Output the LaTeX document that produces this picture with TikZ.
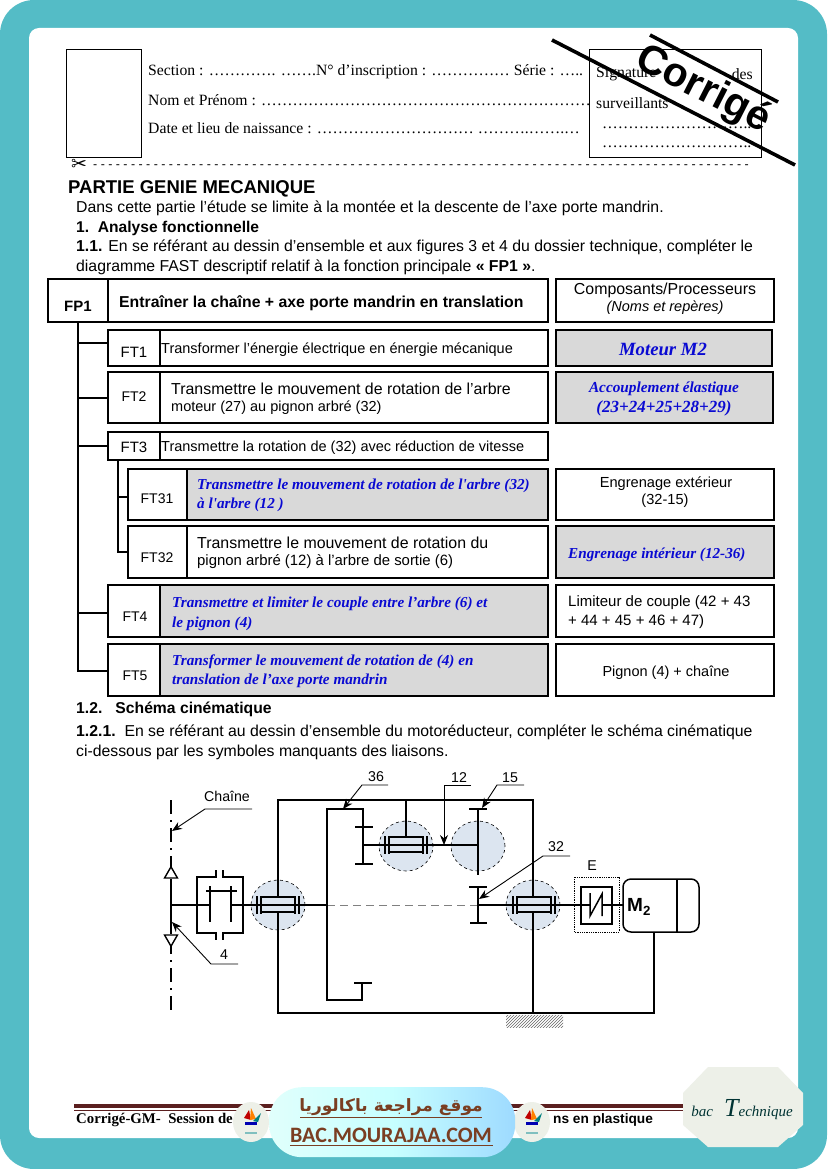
\documentclass[tikz,border=0pt]{standalone}
\usepackage{fontspec}
\usetikzlibrary{arrows.meta,patterns,shapes.geometric}
\setmainfont{Liberation Sans}
\newfontfamily\serifft{Liberation Serif}
\newfontfamily\scriptft{Liberation Serif}[BoldItalicFont={* Bold Italic}]
\newfontfamily\symft{DejaVu Sans}
\newfontfamily\badgeft{Carlito}
\newfontfamily\arabicfont[Script=Arabic]{DejaVu Sans}
\TeXXeTstate=1
\definecolor{teal1}{HTML}{54BCC6}
\definecolor{grayfill}{HTML}{D9D9D9}
\definecolor{blobfill}{HTML}{DCE5F0}
\definecolor{bluetxt}{HTML}{0A0AD2}
\definecolor{brownb}{HTML}{7A3E22}
\definecolor{rulebr}{HTML}{5B1F1F}
\definecolor{paleoct}{HTML}{EDF0E8}
\newcommand{\fs}[1]{\fontsize{#1}{#1}\selectfont}
\tikzset{
  x=1pt,y=-1pt,
  box/.style={draw=black,line width=2pt,anchor=north west,inner sep=0pt,outer sep=0pt},
  gbox/.style={box,fill=grayfill},
  trunk/.style={line width=1.6pt},
  body/.style={anchor=west,inner sep=0pt,yshift=-1.5pt,font=\fs{15.8}},
  head/.style={anchor=west,inner sep=0pt,yshift=-1pt,font=\serifft\fs{15.7}},
  handw/.style={anchor=west,inner sep=0pt,yshift=-1.5pt,align=left,text=bluetxt,font=\scriptft\bfseries\itshape\fs{15.2}},
  handc/.style={anchor=center,inner sep=0pt,yshift=-1pt,align=center,text=bluetxt,font=\scriptft\bfseries\itshape\fs{15.3}},
  ctxt/.style={anchor=center,inner sep=0pt,align=center,font=\fs{14}},
  ltxt/.style={anchor=west,inner sep=0pt,yshift=-1.5pt,align=left,font=\fs{15},text=black},
  lab/.style={inner sep=0pt,font=\fs{14.2}},
  kin/.style={line width=1.5pt},
  kint/.style={line width=1.8pt},
  lead/.style={line width=0.9pt,-{Stealth[length=10pt,width=8pt]}},
  blob/.style={ellipse,draw=black,dashed,line width=0.6pt,fill=blobfill,minimum width=54pt,minimum height=50pt,inner sep=0pt},
}
\begin{document}
\begin{tikzpicture}
\useasboundingbox (0,0) rectangle (827,1169);
% page
\fill[white] (0,0) rectangle (827,1169);
\fill[teal1,rounded corners=34pt] (0,0) rectangle (827,1169);
\fill[white,rounded corners=10pt] (29,28) rectangle (798,1138);

% header
\node[box,line width=0.8pt,minimum width=75pt,minimum height=108pt] (idbox) at (66,49) {};
\node[box,line width=0.8pt,minimum width=172pt,minimum height=108pt] (sigbox) at (589,49) {};
\node[head] (h1) at (148,71) {Section : …………. …….N° d’inscription : …………… Série : …..};
\node[head] (h2) at (148,99) {Nom et Prénom : ………………………………………………………};
\node[head] (h3) at (148,127) {Date et lieu de naissance : ………………………… ……….…….…};
\node[head] (s1) at (596,73) {Signature};
\node[head,anchor=east] (s1b) at (753,73) {des};
\node[head] (s2) at (596,102) {surveillants};
\node[head] (s3) at (602,127) {………………………..};
\node[head] (s4) at (602,146) {………………………..};
\node[anchor=west,inner sep=0pt,font=\symft\fs{19}] (scis) at (71,165) {✂};
\node[anchor=west,inner sep=0pt,font=\fs{12.4}] (cutl) at (93,167) {- - - - - - - - - - - - - - - - - - - - - - - - - - - - - - - - - - - - - - - - - - - - - - - - - - - - - - - - - - - - - - - - - - - - - - - - - - - - - - - - - - - - - - -};
% stamp
\coordinate (st1a) at (552,40); \coordinate (st1b) at (795,165);
\coordinate (st2a) at (650,35); \coordinate (st2b) at (778,102);
\draw[line width=3.6pt] (st1a) -- (st1b);
\draw[line width=3.6pt] (st2a) -- (st2b);
\node[rotate=-27,inner sep=0pt,font=\bfseries\fs{41}] (corr) at (703,90) {Corrigé};

% headings
\node[anchor=west,inner sep=0pt,yshift=-2pt,font=\bfseries\fs{18.5}] (t0) at (68,187) {PARTIE GENIE MECANIQUE};
\node[body] (t1) at (76,207) {Dans cette partie l’étude se limite à la montée et la descente de l’axe porte mandrin.};
\node[body,font=\bfseries\fs{15.6}] (t2) at (76,227) {1.\ \ Analyse fonctionnelle};
\node[body] (t3) at (76,246) {\textbf{1.1.} En se référant au dessin d’ensemble et aux figures 3 et 4 du dossier technique, compléter le};
\node[body] (t4) at (76,266) {diagramme FAST descriptif relatif à la fonction principale \textbf{« FP1 »}.};

% FAST boxes
\node[box,minimum width=60pt,minimum height=43pt] (fp1) at (48,279) {};
\node[anchor=center,inner sep=0pt,font=\bfseries\fs{15}] (fp1t) at (78,306) {FP1};
\node[box,minimum width=440pt,minimum height=43pt] (fp1d) at (108,279) {};
\node[anchor=west,inner sep=0pt,yshift=-1pt,font=\bfseries\fs{15.8}] (fp1dt) at (119,302) {Entraîner la chaîne + axe porte mandrin en translation};
\node[box,minimum width=218pt,minimum height=43pt] (cp) at (556,279) {};
\node[ctxt,yshift=-2pt,font=\fs{15.9}] (cpt) at (665,288) {Composants/Processeurs};
\node[ctxt,yshift=-1pt,font=\itshape\fs{14.5}] (cpt2) at (665,307) {(Noms et repères)};

\node[box,minimum width=52pt,minimum height=36pt] (ft1) at (108,330) {};
\node[box,minimum width=388pt,minimum height=36pt] (ft1d) at (160,330) {};
\node[ctxt,font=\fs{15}] (ft1n) at (134,352) {FT1};
\node[anchor=west,inner sep=0pt,yshift=-2pt,font=\fs{14.5}] (ft1t) at (161,348) {Transformer l'énergie électrique en énergie mécanique};
\node[gbox,minimum width=216pt,minimum height=36pt] (r1) at (556,330) {};
\node[handc,font=\scriptft\bfseries\itshape\fs{18.7}] (r1t) at (663,348) {Moteur M2};

\node[box,minimum width=52pt,minimum height=51pt] (ft2) at (108,372) {};
\node[box,minimum width=388pt,minimum height=51pt] (ft2d) at (160,372) {};
\node[ctxt] (ft2n) at (134,397) {FT2};
\node[ltxt,font=\fs{15.9}] (ft2t) at (171,387) {Transmettre le mouvement de rotation de l’arbre};
\node[ltxt,font=\fs{14.5}] (ft2u) at (171,406) {moteur (27) au pignon arbré (32)};
\node[gbox,minimum width=217pt,minimum height=51pt] (r2) at (556,372) {};
\node[handc] (r2t) at (664,388) {Accouplement élastique};
\node[handc,font=\scriptft\bfseries\itshape\fs{17}] (r2u) at (664,407) {(23+24+25+28+29)};

\node[box,minimum width=52pt,minimum height=28pt] (ft3) at (108,432) {};
\node[box,minimum width=388pt,minimum height=28pt] (ft3d) at (160,432) {};
\node[ctxt,font=\fs{15}] (ft3n) at (134,447) {FT3};
\node[anchor=west,inner sep=0pt,yshift=-2pt,font=\fs{14.5}] (ft3t) at (161,446) {Transmettre la rotation de (32) avec réduction de vitesse};

\node[box,minimum width=59pt,minimum height=51pt] (ft31) at (128,469) {};
\node[gbox,minimum width=361pt,minimum height=51pt] (ft31d) at (187,469) {};
\node[ctxt] (ft31n) at (157,499) {FT31};
\node[handw] (ft31t) at (197,484) {Transmettre le mouvement de rotation de l'arbre (32)};
\node[handw] (ft31u) at (197,503) {à l'arbre (12 )};
\node[box,minimum width=218pt,minimum height=51pt] (r31) at (556,469) {};
\node[ctxt,yshift=-1pt,font=\fs{14.6}] (r31t) at (666,483) {Engrenage extérieur};
\node[ctxt,yshift=-1pt,font=\fs{14.6}] (r31u) at (665,500) {(32-15)};

\node[box,minimum width=59pt,minimum height=52pt] (ft32) at (128,526) {};
\node[box,minimum width=361pt,minimum height=52pt] (ft32d) at (187,526) {};
\node[ctxt] (ft32n) at (157,558) {FT32};
\node[ltxt,font=\fs{15.9}] (ft32t) at (197,541) {Transmettre le mouvement de rotation du};
\node[ltxt,font=\fs{14.9}] (ft32u) at (197,560) {pignon arbré (12) à l’arbre de sortie (6)};
\node[gbox,minimum width=218pt,minimum height=52pt] (r32) at (556,526) {};
\node[handw] (r32t) at (568,553) {Engrenage intérieur (12-36)};

\node[box,minimum width=52pt,minimum height=52pt] (ft4) at (108,585) {};
\node[gbox,minimum width=388pt,minimum height=52pt] (ft4d) at (160,585) {};
\node[ctxt] (ft4n) at (135,617) {FT4};
\node[handw] (ft4t) at (172,602) {Transmettre et limiter le couple entre l’arbre (6) et};
\node[handw] (ft4u) at (172,622) {le pignon (4)};
\node[box,minimum width=218pt,minimum height=52pt] (r4) at (556,585) {};
\node[ltxt] (r4t) at (568,601) {Limiteur de couple (42 + 43};
\node[ltxt] (r4u) at (568,620) {+ 44 + 45 + 46 + 47)};

\node[box,minimum width=52pt,minimum height=52pt] (ft5) at (108,644) {};
\node[gbox,minimum width=388pt,minimum height=52pt] (ft5d) at (160,644) {};
\node[ctxt] (ft5n) at (135,676) {FT5};
\node[handw] (ft5t) at (172,660) {Transformer le mouvement de rotation de (4) en};
\node[handw] (ft5u) at (172,679) {translation de l’axe porte mandrin};
\node[box,minimum width=218pt,minimum height=52pt] (r5) at (556,644) {};
\node[ctxt,yshift=-2pt,font=\fs{14.5}] (r5t) at (666,671) {Pignon (4) + chaîne};

% FAST connectors
\draw[trunk] (fp1.south -| 78,0) -- (78,671) -- (ft5.west |- 0,671);
\draw[trunk] (78,343) -- (ft1.west |- 0,343);
\draw[trunk] (78,398) -- (ft2.west |- 0,398);
\draw[trunk] (78,446) -- (ft3.west |- 0,446);
\draw[trunk] (78,613) -- (ft4.west |- 0,613);
\draw[trunk] (ft3.south -| 118,0) -- (118,552) -- (ft32.west |- 0,552);
\draw[trunk] (118,497) -- (ft31.west |- 0,497);

% section 1.2
\node[body,font=\bfseries\fs{15.7}] (t5) at (76,708) {1.2.\ \ \ Schéma cinématique};
\node[body] (t6) at (76,731) {\textbf{1.2.1.}\ \ En se référant au dessin d’ensemble du motoréducteur, compléter le schéma cinématique};
\node[body] (t7) at (76,751) {ci-dessous par les symboles manquants des liaisons.};

% kinematic blobs
\node[blob] (b1) at (278,905) {};
\node[blob] (b2) at (406,846) {};
\node[blob] (b3) at (478,846) {};
\node[blob] (b4) at (533,905) {};

% chain axis
\draw[line width=1.3pt,dash pattern=on 14pt off 6pt on 2pt off 6pt] (171,800) -- (171,1010);
\draw[kint] (171,879) -- (171,933);
\node[isosceles triangle,isosceles triangle apex angle=60,shape border rotate=90,draw,line width=1.4pt,fill=white,inner sep=3pt] (tri1) at (171,875) {};
\node[isosceles triangle,isosceles triangle apex angle=60,shape border rotate=270,draw,line width=1.4pt,fill=white,inner sep=3pt] (tri2) at (171,938) {};

% frame
\draw[kin] (278,800) rectangle (533,1013);
\draw[kin] (533,1013) -- (654,1013) -- (654,932);
\draw[kin] (406,800) -- (406,838);
% shafts
\draw[kint] (171,905) -- (210,905);
\draw[kint] (231,905) -- (327,905);
\draw[kint] (363,845) -- (478,845);
\draw[kint] (478,905) -- (623,905);
\draw[line width=0.5pt,gray,dash pattern=on 8pt off 5pt] (327,905) -- (478,905);
% clutch
\draw[kin] (216,870) -- (216,877) -- (197,877) -- (197,933) -- (216,933) -- (216,940);
\draw[kin] (223,870) -- (223,877) -- (243,877) -- (243,933) -- (223,933) -- (223,940);
\draw[kin] (206,891) -- (237,891);
\draw[kin] (210,886) -- (210,922);
\draw[kin] (231,886) -- (231,922);
% drum 36
\draw[kin] (363,864) -- (363,809) -- (327,809) -- (327,1000) -- (362,1000) -- (362,983);
\draw[kin] (355,827) -- (373,827);
\draw[kin] (355,864) -- (373,864);
\draw[kin] (354,983) -- (372,983);
% gears 15 and 32
\draw[kint] (478,809) -- (478,875);
\draw[kint] (478,887) -- (478,923);
\draw[kin] (469,809) -- (487,809);
\draw[kin] (469,887) -- (487,887);
\draw[kin] (470,923) -- (487,923);
% bearings
\foreach \cx/\cy/\bn in {278/905/a,406/845/b,534/905/c}{
  \draw[line width=1.6pt,fill=blobfill] (\cx-17,\cy-8) rectangle (\cx+17,\cy+7);
  \draw[kint] (\cx,\cy) ++(-34,0) -- ++(68,0);
  \draw[kin] (\cx-21,\cy-9) -- (\cx-21,\cy+9);
  \draw[kin] (\cx+21,\cy-9) -- (\cx+21,\cy+9);
  \draw[kin] (\cx-17,\cy-9) -- (\cx-17,\cy+9);
  \draw[kin] (\cx+17,\cy-9) -- (\cx+17,\cy+9);
}
% coupling E
\draw[densely dotted,line width=0.8pt] (574,877) rectangle (619,932);
\draw[line width=1.6pt,fill=white] (581,887) rectangle (612,924);
\draw[kint] (574,905) -- (591,905);
\draw[kint] (603,905) -- (623,905);
\draw[kin] (590,893) -- (590,916) -- (602,894) -- (602,916);
\node[lab] (elab) at (592,866) {E};
% motor
\node[box,line width=1.5pt,rounded corners=8pt,minimum width=76pt,minimum height=53pt] (m2) at (623,879) {};
\draw[kin] (677,879) -- (677,932);
\node[inner sep=0pt,anchor=west,font=\bfseries\fs{19}] (m2t) at (627,907) {M\textsubscript{2}};
% ground
\fill[pattern=north east lines,pattern color=black!60] (506,1015) rectangle (563,1027);

% leaders
\node[lab] (l36) at (376,777) {36};
\draw[lead] (388,785) -- (362,785) -- (343,809);
\node[lab] (l12) at (459,778) {12};
\draw[lead] (471,785) -- (444,785) -- (444,845);
\node[lab] (l15) at (510,778) {15};
\draw[lead] (524,785) -- (497,785) -- (482,808);
\node[lab] (l32) at (556,847) {32};
\draw[lead] (570,856) -- (543,856) -- (479,899);
\node[lab] (lch) at (227,796) {Chaîne};
\draw[lead] (252,809) -- (205,809) -- (172,831);
\node[lab] (l4) at (224,955) {4};
\draw[lead] (238,964) -- (211,964) -- (172,922);

% footer
\fill[rulebr] (74,1104) rectangle (685,1108);
\fill[rulebr] (74,1109.5) rectangle (685,1110.5);
\node[anchor=west,inner sep=0pt,font=\serifft\bfseries\fs{14.8}] (f1) at (76,1120) {Corrigé-GM-\ \ Session de};
\node[anchor=west,inner sep=0pt,font=\bfseries\fs{13.7}] (f2) at (553,1120) {ns en plastique};
% logos
\foreach \lx/\ln in {251/la,532/lb}{
  \fill[paleoct] (\lx,1122) ellipse (18 and 20);
  \fill[red!75!black] (\lx-7,1118) -- (\lx-2,1110) -- (\lx,1120) -- cycle;
  \fill[orange] (\lx-1,1120) -- (\lx,1108) -- (\lx+5,1119) -- cycle;
  \fill[teal] (\lx+2,1121) -- (\lx+10,1113) -- (\lx+7,1122) -- cycle;
  \fill[blue!70!black] (\lx-6,1122) rectangle (\lx+6,1125);
  \fill[teal!50] (\lx-6,1132) rectangle (\lx+6,1134);
}
% badge
\node[anchor=north west,minimum width=246pt,minimum height=70pt,inner sep=0pt,rounded corners=33pt,left color=green!10!cyan!12,right color=blue!38!cyan!38,middle color=cyan!22] (badge) at (269,1087) {};
\node[inner sep=0pt,text=brownb,font=\arabicfont\bfseries\fs{17}] (ar) at (391,1107) {\beginR موقع مراجعة  باكالوريا\endR};
\draw[brownb,line width=1pt] (300,1117) -- (482,1117);
\node[inner sep=0pt,text=brownb,font=\badgeft\bfseries\fs{22}] (la) at (391,1135) {BAC.MOURAJAA.COM};
\draw[brownb,line width=1pt] (290,1145) -- (493,1145);
% octagon
\fill[paleoct] (708,1067) -- (778,1067) -- (803,1093) -- (803,1125) -- (778,1147) -- (708,1147) -- (683,1125) -- (683,1093) -- cycle;
\node[inner sep=0pt,text=black!60!teal,font=\serifft\itshape\fs{15}] (bt) at (742,1110) {bac \ \ {\fs{26}T}echnique};
\end{tikzpicture}
\end{document}
